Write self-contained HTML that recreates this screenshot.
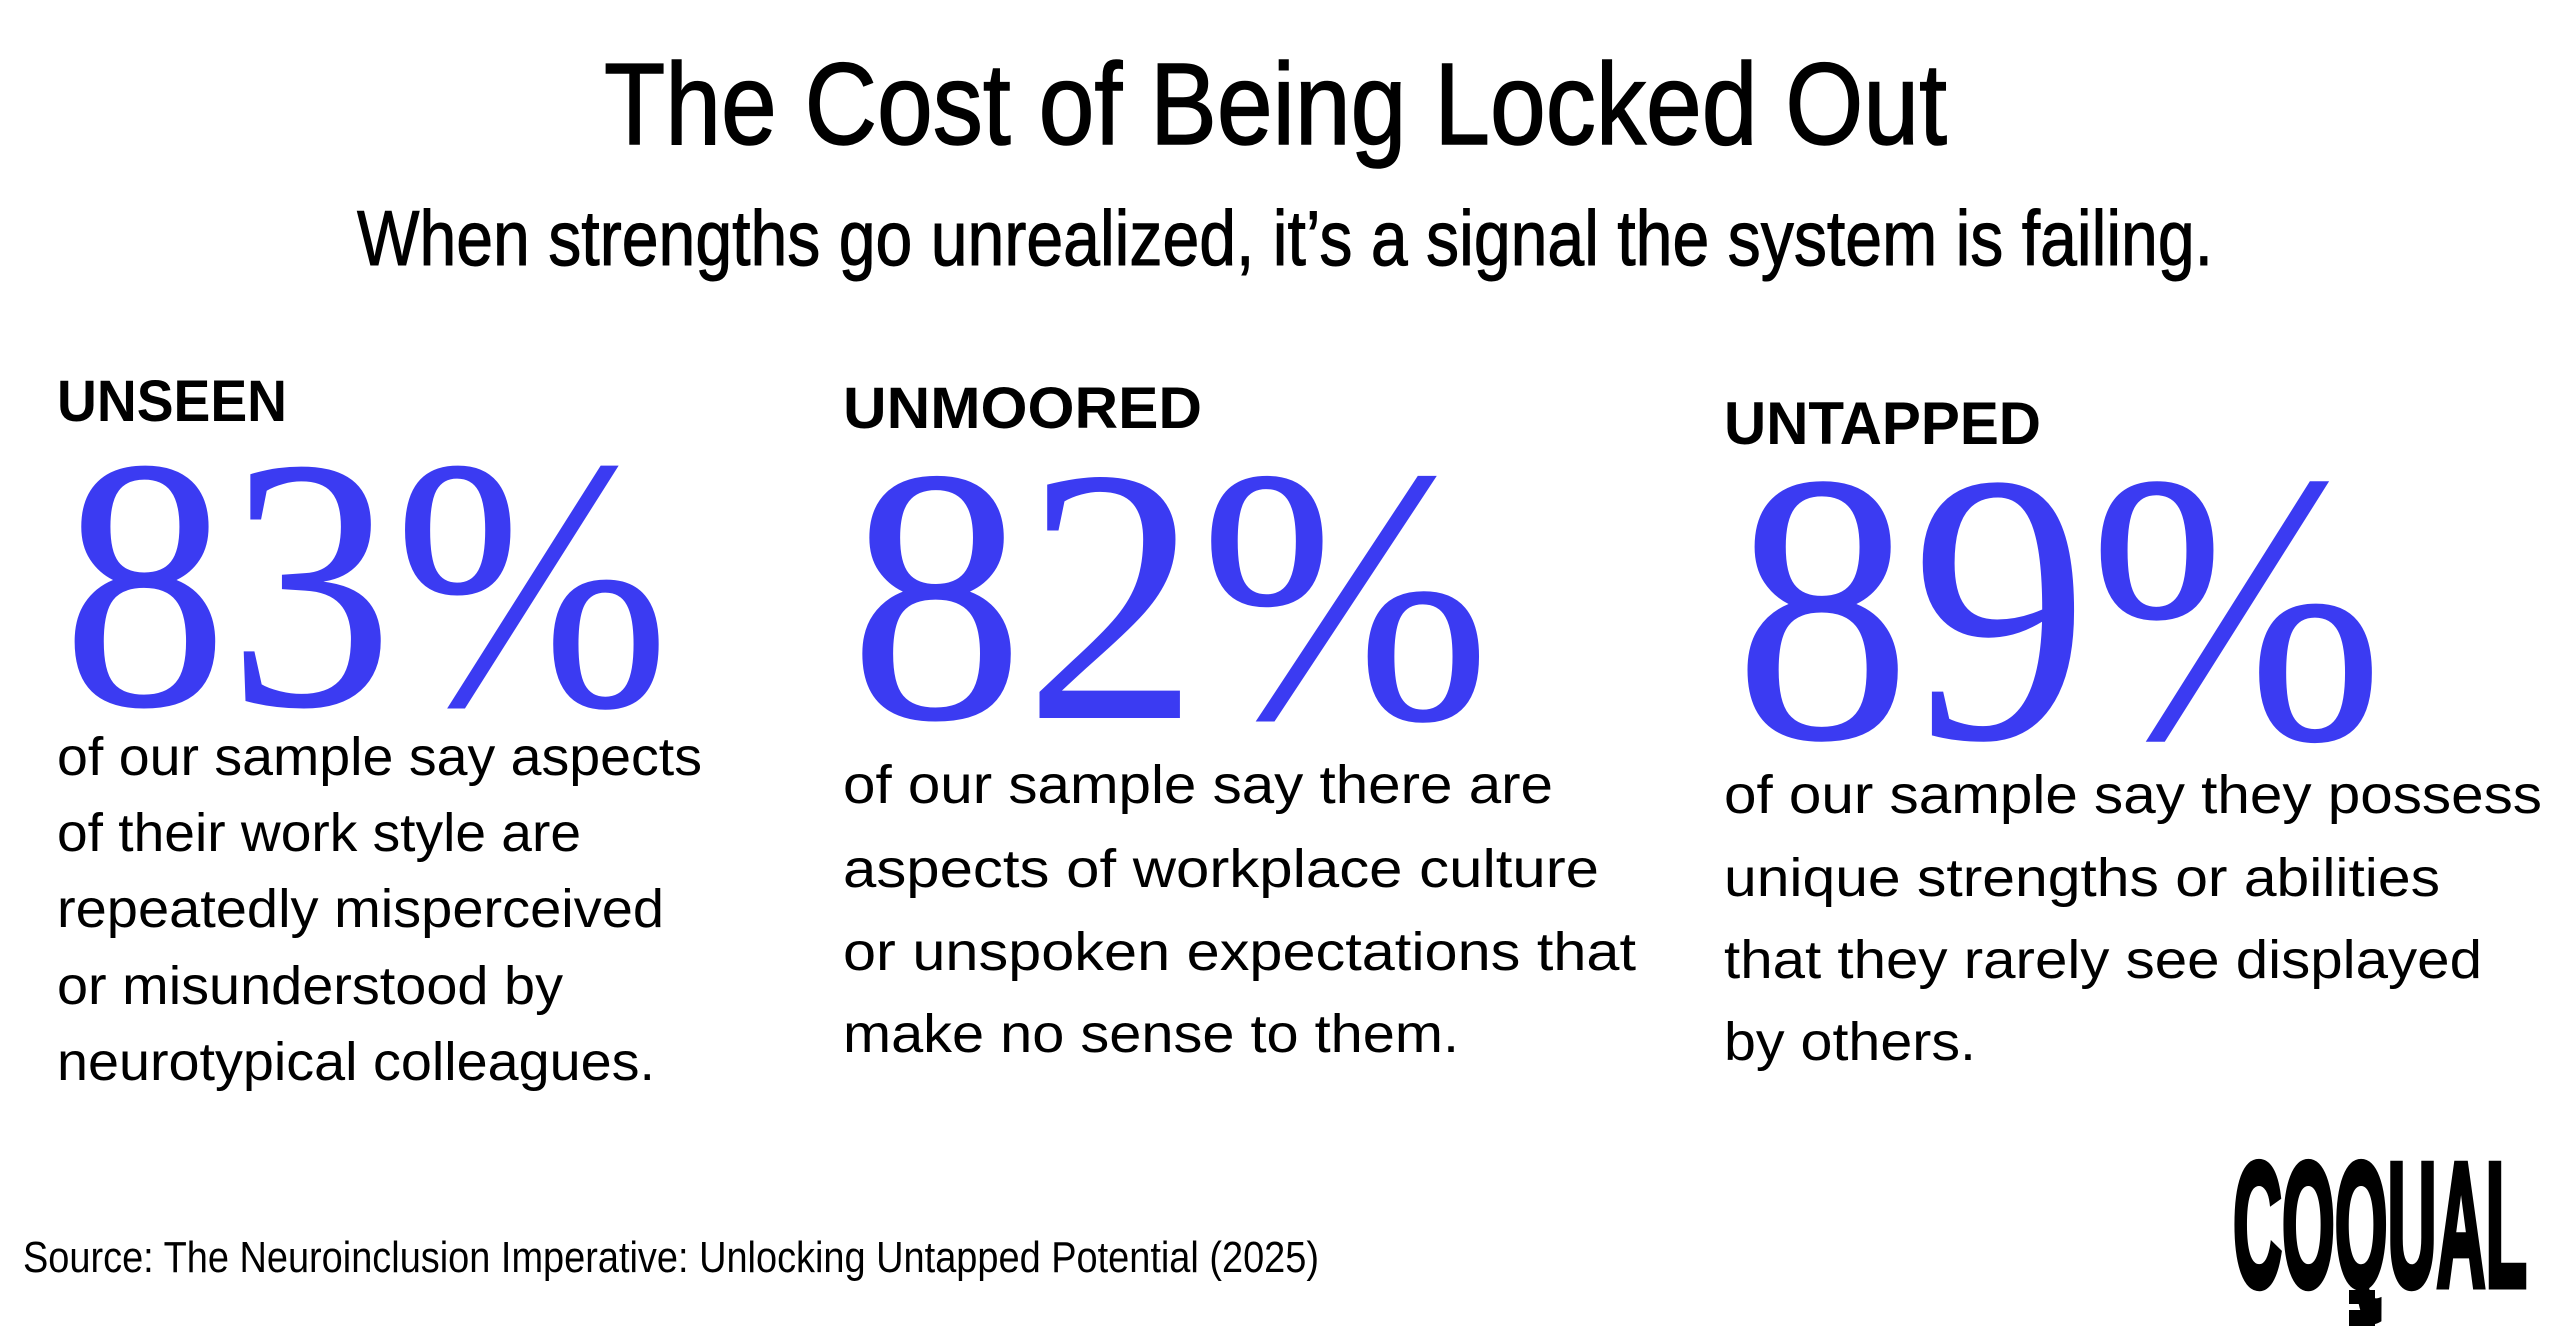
<!DOCTYPE html>
<html><head><meta charset="utf-8"><style>
html,body{margin:0;padding:0;background:#fff;}
svg{display:block;}
.s{font-family:"Liberation Sans",sans-serif;fill:#000;}
.n{font-family:"Liberation Serif",serif;fill:#3b3bf2;}
</style></head><body>
<svg width="2560" height="1340" viewBox="0 0 2560 1340" xmlns="http://www.w3.org/2000/svg">
<rect width="2560" height="1340" fill="#fff"/>
<text class="s" x="604" y="144" font-size="116" textLength="1343" lengthAdjust="spacingAndGlyphs" stroke="#000" stroke-width="1.5">The Cost of Being Locked Out</text>
<text class="s" x="357" y="265" font-size="78" textLength="1856" lengthAdjust="spacingAndGlyphs" stroke="#000" stroke-width="1">When strengths go unrealized, it’s a signal the system is failing.</text>

<text class="s" x="57" y="421" font-size="58" font-weight="bold" textLength="230" lengthAdjust="spacingAndGlyphs">UNSEEN</text>
<text class="s" x="843" y="428" font-size="58" font-weight="bold" textLength="359" lengthAdjust="spacingAndGlyphs">UNMOORED</text>
<text class="s" x="1724" y="444" font-size="60" font-weight="bold" textLength="317" lengthAdjust="spacingAndGlyphs">UNTAPPED</text>

<text class="n" x="62" y="705" font-size="360" textLength="608" lengthAdjust="spacingAndGlyphs">83%</text>
<text class="n" x="849" y="718" font-size="364" textLength="642" lengthAdjust="spacingAndGlyphs">82%</text>
<text class="n" x="1734" y="738" font-size="386" textLength="650" lengthAdjust="spacingAndGlyphs">89%</text>

<g class="s" font-size="54">
<text x="57" y="775" textLength="645" lengthAdjust="spacingAndGlyphs">of our sample say aspects</text>
<text x="57" y="851" textLength="524" lengthAdjust="spacingAndGlyphs">of their work style are</text>
<text x="57" y="927" textLength="607" lengthAdjust="spacingAndGlyphs">repeatedly misperceived</text>
<text x="57" y="1004" textLength="506" lengthAdjust="spacingAndGlyphs">or misunderstood by</text>
<text x="57" y="1080" textLength="598" lengthAdjust="spacingAndGlyphs">neurotypical colleagues.</text>

<text x="843" y="803" textLength="710" lengthAdjust="spacingAndGlyphs">of our sample say there are</text>
<text x="843" y="887" textLength="756" lengthAdjust="spacingAndGlyphs">aspects of workplace culture</text>
<text x="843" y="970" textLength="793" lengthAdjust="spacingAndGlyphs">or unspoken expectations that</text>
<text x="843" y="1052" textLength="616" lengthAdjust="spacingAndGlyphs">make no sense to them.</text>

<text x="1724" y="813" textLength="818" lengthAdjust="spacingAndGlyphs">of our sample say they possess</text>
<text x="1724" y="896" textLength="716" lengthAdjust="spacingAndGlyphs">unique strengths or abilities</text>
<text x="1724" y="978" textLength="758" lengthAdjust="spacingAndGlyphs">that they rarely see displayed</text>
<text x="1724" y="1060" textLength="252" lengthAdjust="spacingAndGlyphs">by others.</text>
</g>

<text class="s" x="23" y="1272" font-size="44" textLength="1296" lengthAdjust="spacingAndGlyphs">Source: The Neuroinclusion Imperative: Unlocking Untapped Potential (2025)</text>

<text class="s" x="2233" y="1286" font-size="177" font-weight="bold" textLength="294" lengthAdjust="spacingAndGlyphs" stroke="#000" stroke-width="7" stroke-linejoin="miter">COQUAL</text>
<rect x="2349" y="1290" width="26" height="14" fill="#000"/>
<rect x="2349" y="1310" width="26" height="16" fill="#000"/>
</svg>
</body></html>
